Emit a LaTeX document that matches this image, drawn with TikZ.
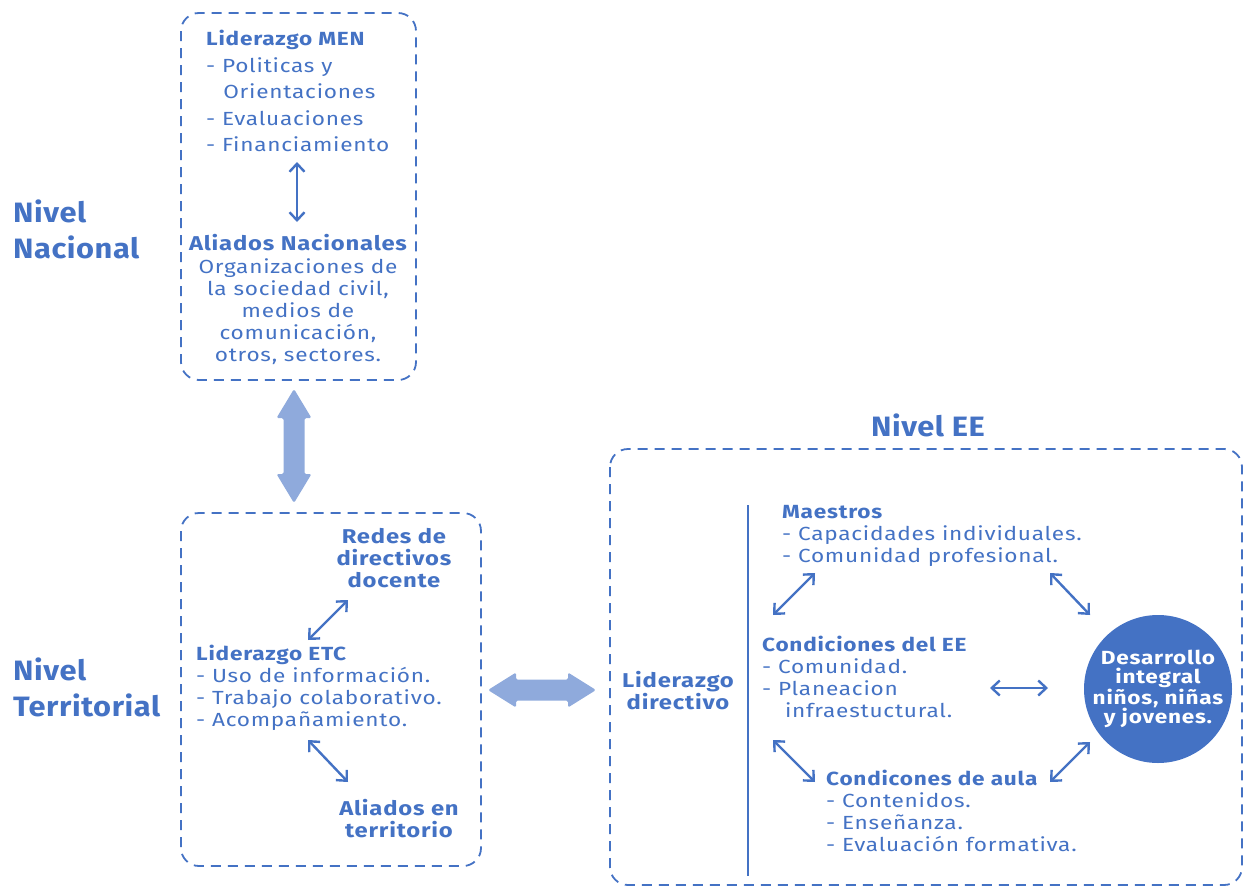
\documentclass[tikz,border=0pt]{standalone}
\usepackage{fontspec}
\setmainfont{Fira Sans}[BoldFont=* Bold, FakeStretch=1.19, LetterSpace=4]
\newfontfamily\levelfont{Fira Sans}[UprightFont=* Bold, FakeStretch=1.1, LetterSpace=2]
\usetikzlibrary{arrows.meta,shapes.geometric,calc}
\definecolor{mblue}{HTML}{4472C4}
\definecolor{lblue}{HTML}{8FAADC}
\tikzset{
  dbox/.style={draw=mblue, line width=1.8pt, dash pattern=on 10pt off 7pt, rounded corners=18pt},
  body/.style={text=mblue, inner sep=0pt, font=\fontsize{19}{22}\selectfont, align=left},
  head/.style={text=mblue, inner sep=0pt, font=\fontsize{20}{22}\selectfont\bfseries, align=center},
  level/.style={text=mblue, inner sep=0pt, font=\fontsize{28}{36}\selectfont\levelfont, align=left},
  thin arrow/.style={draw=mblue, line width=2.4pt, {Straight Barb[length=8pt,width=15pt]}-{Straight Barb[length=8pt,width=15pt]}},
  big/.style={fill=lblue, rounded corners=1.5pt},
}
\begin{document}
\begin{tikzpicture}[x=1pt,y=-1pt]
\useasboundingbox (0,0) rectangle (1243,886);
% ---------- Nivel Nacional ----------
\node[level, anchor=west] (nn) at (13,229) {Nivel\\Nacional};
\draw[dbox] (181,13) rectangle (416,380);
\node[body, anchor=north west, font=\fontsize{19}{26.5}\selectfont] (men) at (206,30)
  {\textbf{Liderazgo MEN}\\- Politicas y\\\hspace*{0.9em}Orientaciones\\- Evaluaciones\\- Financiamiento};
\node[head, anchor=north] (aln) at (298,234) {Aliados Nacionales};
\node[body, anchor=north, align=center] (alnb) at (298,258)
  {Organizaciones de\\la sociedad civil,\\medios de\\comunicación,\\otros, sectores.};
\coordinate (a1s) at (297,162); \coordinate (a1e) at (297,222);
\draw[thin arrow] (a1s) -- (a1e);
% big vertical arrow
\coordinate (bv) at (294,446);
\fill[big] ($(bv)+(0,-57)$) -- ($(bv)+(17.5,-28)$) -- ($(bv)+(10.5,-28)$) -- ($(bv)+(10.5,28)$) -- ($(bv)+(17.5,28)$) -- ($(bv)+(0,57)$) -- ($(bv)+(-17.5,28)$) -- ($(bv)+(-10.5,28)$) -- ($(bv)+(-10.5,-28)$) -- ($(bv)+(-17.5,-28)$) -- cycle;
% ---------- Nivel Territorial ----------
\node[level, anchor=west] (nt) at (13,687) {Nivel\\Territorial};
\draw[dbox] (181,513) rectangle (481,866);
\node[head, anchor=north] (redes) at (394,528) {Redes de\\directivos\\docente};
\node[body, anchor=north west] (etc) at (196,645)
  {\textbf{Liderazgo ETC}\\- Uso de información.\\- Trabajo colaborativo.\\- Acompañamiento.};
\node[head, anchor=north] (alt) at (399,799) {Aliados en\\territorio};
\coordinate (a2s) at (348,600); \coordinate (a2e) at (308,640);
\draw[thin arrow] (a2s) -- (a2e);
\coordinate (a3s) at (308,740); \coordinate (a3e) at (348,782);
\draw[thin arrow] (a3s) -- (a3e);
% big horizontal arrow
\coordinate (bh) at (542,690);
\fill[big] ($(bh)+(-54,0)$) -- ($(bh)+(-26,-17.5)$) -- ($(bh)+(-26,-10.5)$) -- ($(bh)+(26,-10.5)$) -- ($(bh)+(26,-17.5)$) -- ($(bh)+(54,0)$) -- ($(bh)+(26,17.5)$) -- ($(bh)+(26,10.5)$) -- ($(bh)+(-26,10.5)$) -- ($(bh)+(-26,17.5)$) -- cycle;
% ---------- Nivel EE ----------
\node[level, anchor=center] (nee) at (928,425) {Nivel EE};
\draw[dbox] (610,449) rectangle (1242,885);
\node[head, anchor=center] (ld) at (678,691) {Liderazgo\\directivo};
\coordinate (vl1) at (748,505); \coordinate (vl2) at (748,876);
\draw[mblue, line width=1.8pt] (vl1) -- (vl2);
\node[body, anchor=north west] (mae) at (782,505)
  {\textbf{Maestros}\\- Capacidades individuales.\\- Comunidad profesional.};
\node[body, anchor=north west] (cee) at (762,636)
  {\textbf{Condiciones del EE}\\- Comunidad.\\- Planeacion\\\hspace*{1.2em}infraestuctural.};
\node[body, anchor=north west] (cau) at (826,770)
  {\textbf{Condicones de aula}\\- Contenidos.\\- Enseñanza.\\- Evaluación formativa.};
\node[ellipse, fill=mblue, minimum width=148pt, minimum height=148pt, inner sep=0pt] (des) at (1158,689) {};
\node[text=white, inner sep=0pt, font=\fontsize{19}{19}\selectfont\bfseries, align=center] (dest) at (des.center)
  {Desarrollo\\integral\\niños, niñas\\y jovenes.};
\coordinate (b1s) at (815,573); \coordinate (b1e) at (773,615);
\draw[thin arrow] (b1s) -- (b1e);
\coordinate (b2s) at (1050,573); \coordinate (b2e) at (1090,615);
\draw[thin arrow] (b2s) -- (b2e);
\coordinate (b3s) at (990,688); \coordinate (b3e) at (1048,688);
\draw[thin arrow] (b3s) -- (b3e);
\coordinate (b4s) at (773,740); \coordinate (b4e) at (815,782);
\draw[thin arrow] (b4s) -- (b4e);
\coordinate (b5s) at (1090,742); \coordinate (b5e) at (1050,782);
\draw[thin arrow] (b5s) -- (b5e);
\end{tikzpicture}
\end{document}
